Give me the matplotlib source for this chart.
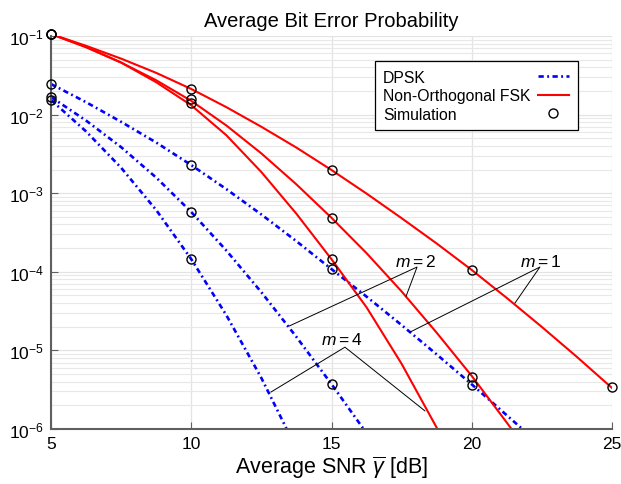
import matplotlib
matplotlib.use("Agg")
import matplotlib.pyplot as plt
import numpy as np

plt.rcParams['font.family'] = ['Liberation Sans', 'DejaVu Sans']
plt.rcParams['mathtext.fontset'] = 'custom'
plt.rcParams['mathtext.rm'] = 'Liberation Sans'
plt.rcParams['mathtext.it'] = 'Liberation Sans:italic'

# curvas teoricas (log10 de la probabilidad)
snr_fsk1 = [5, 6.25, 7.5, 8.75, 10, 11.25, 12.5, 13.75, 15, 16.25, 17.5, 18.75, 20, 21.25, 22.5, 23.75, 25]
log_fsk1 = [-0.975, -1.125, -1.288, -1.469, -1.674, -1.905, -2.155, -2.42, -2.705,
            -3.005, -3.318, -3.64, -3.977, -4.333, -4.702, -5.083, -5.478]
snr_fsk2 = [5, 6.25, 7.5, 8.75, 10, 11.25, 12.5, 13.75, 15, 16.25, 17.5, 18.75, 20, 21.25, 21.5]
log_fsk2 = [-0.975, -1.144, -1.338, -1.563, -1.825, -2.138, -2.494, -2.888, -3.313,
            -3.763, -4.25, -4.775, -5.325, -5.919, -6.04]
snr_fsk4 = [5, 6.25, 7.5, 8.75, 10, 11.25, 12.5, 13.75, 15, 16.25, 17.5, 18.75, 19.0]
log_fsk4 = [-0.975, -1.138, -1.338, -1.588, -1.881, -2.262, -2.731, -3.262, -3.84,
            -4.452, -5.171, -5.983, -6.16]

snr_dpsk1 = [5, 6.25, 7.5, 8.75, 10, 11.25, 12.5, 13.75, 15, 16.25, 17.5, 18.75, 20, 21.25, 22]
log_dpsk1 = [-1.611, -1.842, -2.092, -2.355, -2.642, -2.948, -3.271, -3.611, -3.966,
             -4.316, -4.678, -5.051, -5.432, -5.826, -6.062]
snr_dpsk2 = [5, 6.25, 7.5, 8.75, 10, 11.25, 12.5, 13.75, 15, 16.25, 16.5]
log_dpsk2 = [-1.776, -2.076, -2.414, -2.801, -3.239, -3.729, -4.26, -4.829, -5.429, -6.054, -6.18]
snr_dpsk4 = [5, 6.25, 7.5, 8.75, 10, 11.25, 12.5, 13.75]
log_dpsk4 = [-1.814, -2.214, -2.676, -3.214, -3.839, -4.551, -5.351, -6.251]

# simulacion
sim_snr = [5, 10, 15, 20, 25]
sim_fsk1 = [0.106, 0.0212, 1.97e-3, 1.05e-4, 3.4e-6]
sim_fsk2 = [0.106, 0.0158, 4.8e-4, 4.6e-6]
sim_fsk4 = [0.106, 0.0141, 1.46e-4]
sim_dpsk1 = [0.0245, 2.29e-3, 1.09e-4, 3.6e-6]
sim_dpsk2 = [0.0168, 5.8e-4, 3.7e-6]
sim_dpsk4 = [0.0153, 1.45e-4]

fig = plt.figure(figsize=(6.21, 4.85), dpi=100)
ax = fig.add_axes([51/621, 55/485, 561/621, 393/485])

dash = (0, (2.0, 1.3, 0.7, 1.3))
ax.plot(snr_dpsk1, 10**np.array(log_dpsk1), color='blue', lw=1.9, ls=dash, label='DPSK')
ax.plot(snr_dpsk2, 10**np.array(log_dpsk2), color='blue', lw=1.9, ls=dash)
ax.plot(snr_dpsk4, 10**np.array(log_dpsk4), color='blue', lw=1.9, ls=dash)
ax.plot(snr_fsk1, 10**np.array(log_fsk1), color='red', lw=1.5, label='Non-Orthogonal FSK')
ax.plot(snr_fsk2, 10**np.array(log_fsk2), color='red', lw=1.5)
ax.plot(snr_fsk4, 10**np.array(log_fsk4), color='red', lw=1.5)

sims = [sim_fsk1, sim_fsk2, sim_fsk4, sim_dpsk1, sim_dpsk2, sim_dpsk4]
for i, s in enumerate(sims):
    ax.plot(sim_snr[:len(s)], s, 'o', mfc='none', mec='black', ms=6.5, mew=1.0,
            clip_on=False, zorder=5, label='Simulation' if i == 0 else None)

# etiquetas m
ax.text(17.98, 1.37e-4, '$m = 2$', fontsize=12.5, ha='center', va='center')
ax.plot([13.49, 18.05, 17.66], [2.04e-5, 1.15e-4, 4.9e-5], color='black', lw=0.7)
ax.text(22.47, 1.37e-4, '$m = 1$', fontsize=12.5, ha='center', va='center')
ax.plot([17.80, 22.43, 21.54], [1.71e-5, 1.15e-4, 4.0e-5], color='black', lw=0.7)
ax.text(15.37, 1.40e-5, '$m = 4$', fontsize=12.5, ha='center', va='center')
ax.plot([12.84, 15.48, 18.33], [2.95e-6, 1.10e-5, 1.70e-6], color='black', lw=0.7)

ax.set_yscale('log')
ax.set_xlim(5, 25)
ax.set_ylim(1e-6, 1e-1)
ax.set_xticks([5, 10, 15, 20, 25])
ax.grid(True, which='major', color='#e3e3e3', lw=0.9)
ax.grid(True, which='minor', axis='y', color='#e8e8e8', lw=0.8)
ax.set_axisbelow(True)
for s in ['top', 'right']:
    ax.spines[s].set_visible(False)
for s in ['left', 'bottom']:
    ax.spines[s].set_color('#5f5f5f')
    ax.spines[s].set_linewidth(1.5)
ax.tick_params(which='major', direction='in', length=5, color='#5f5f5f',
               labelsize=12.5, pad=5)
ax.tick_params(which='minor', length=0)

ax.set_title('Average Bit Error Probability', fontsize=14.5, pad=7)
ax.set_xlabel(r'Average SNR $\overline{\gamma}$ [dB]', fontsize=15.5, labelpad=2)

leg = ax.legend(loc='upper right', bbox_to_anchor=(0.939, 0.936), borderaxespad=0,
                markerfirst=False, fontsize=11.3, fancybox=False, framealpha=1,
                edgecolor='black', handlelength=2.0, handletextpad=0.45,
                borderpad=0.55, labelspacing=0.22)
leg.get_frame().set_linewidth(0.9)

# textos a la izquierda, simbolos a la derecha
fig.canvas.draw()
r = fig.canvas.get_renderer()
maxw = max(t.get_window_extent(r).width for t in leg.get_texts())
for col in leg._legend_handle_box.get_children():
    for item in col.get_children():
        ta, da = item.get_children()
        w = ta._text.get_window_extent(r).width
        item.sep = leg.handletextpad * leg._fontsize + (maxw - w) * 72 / fig.dpi

fig.savefig('out.png', dpi=100)
